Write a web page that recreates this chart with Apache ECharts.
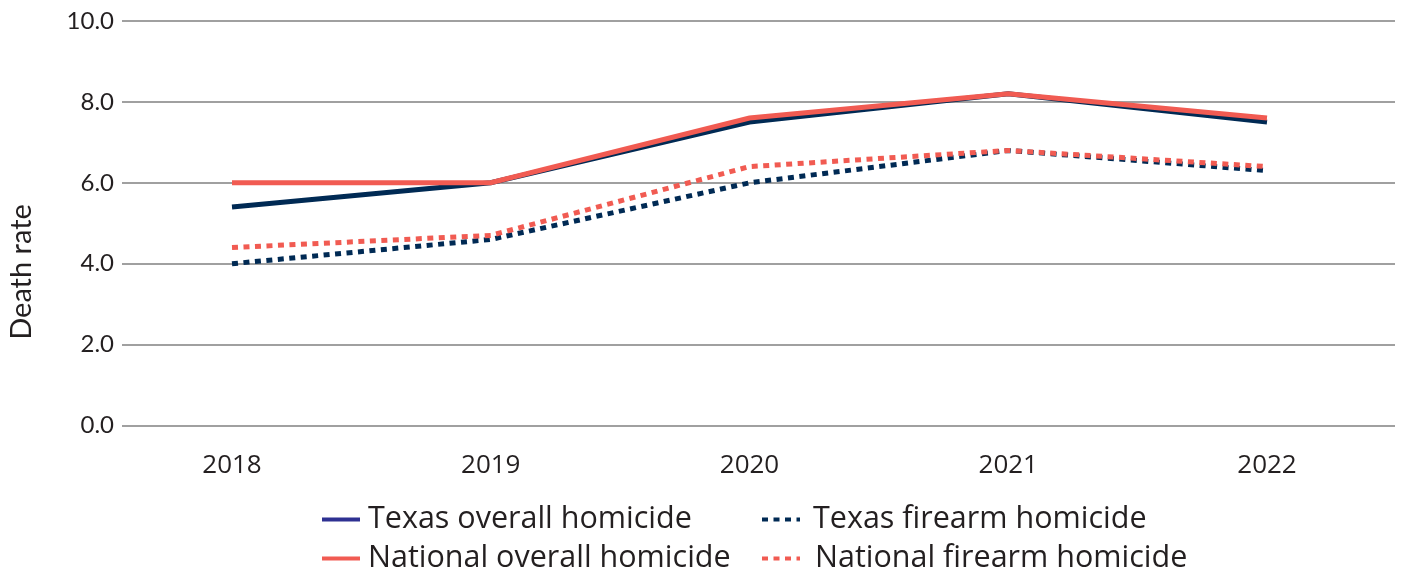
<!DOCTYPE html>
<html>
<head>
<meta charset="utf-8">
<script src="https://cdn.jsdelivr.net/npm/echarts@6/dist/echarts.min.js"></script>
<style>
  html, body { margin: 0; padding: 0; background: #ffffff; }
  #chart { width: 1403px; height: 576px; }
</style>
</head>
<body>
<div id="chart"></div>
<script>
// Homicide death rates, Texas vs. national, 2018–2022
const years = ['2018', '2019', '2020', '2021', '2022'];
const texasOverall = [5.4, 6.0, 7.5, 8.2, 7.5];
const texasFirearm = [4.0, 4.6, 6.0, 6.8, 6.3];
const nationalOverall = [6.0, 6.0, 7.6, 8.2, 7.6];
const nationalFirearm = [4.4, 4.7, 6.4, 6.8, 6.4];
const yTicks = [0, 2, 4, 6, 8, 10];

const NAVY = '#002a54';
const RED = '#f15b52';
const LEGEND_BLUE = '#2e3192';
const TEXT = '#231f20';
const DOTS = [6, 5.5];

const chart = echarts.init(document.getElementById('chart'), null, { renderer: 'canvas' });

const gridTop = 21, gridBottom = 150.5;

function legendAt(left, topPos, name, color, dotted, textGap) {
  return {
    left: left,
    top: topPos,
    orient: 'horizontal',
    itemWidth: 38,
    itemHeight: 14,
    padding: 0,
    data: [{
      name: name,
      // hide the marker dot; keep only the line sample
      itemStyle: { color: 'rgba(0,0,0,0)', borderWidth: 0, opacity: 0 },
      lineStyle: { color: color, width: 4, type: dotted ? DOTS : 'solid' }
    }],
    textStyle: {
      fontFamily: 'Open Sans',
      fontSize: 30.5,
      color: TEXT,
      padding: [0, 0, 0, textGap]
    },
    selectedMode: false
  };
}

chart.setOption({
  animation: false,
  backgroundColor: '#ffffff',
  grid: [
    { left: 122, right: 8, top: gridTop, bottom: gridBottom },
    { left: 232, right: 136, top: gridTop, bottom: gridBottom }
  ],
  xAxis: [
    { gridIndex: 0, type: 'category', data: years, show: false },
    {
      gridIndex: 1,
      type: 'category',
      data: years,
      boundaryGap: false,
      axisLine: { show: false },
      axisTick: { show: false },
      axisLabel: {
        margin: 27,
        fontFamily: 'Open Sans',
        fontSize: 26,
        color: TEXT
      },
      splitLine: { show: false }
    }
  ],
  yAxis: [
    {
      gridIndex: 0,
      type: 'value',
      min: yTicks[0],
      max: yTicks[yTicks.length - 1],
      interval: 2,
      axisLine: { show: false },
      axisTick: { show: false },
      axisLabel: {
        margin: 8,
        fontFamily: 'Lato',
        fontSize: 24,
        color: TEXT,
        formatter: v => v.toFixed(1)
      },
      splitLine: { show: true, lineStyle: { color: '#a0a0a0', width: 2 } }
    },
    {
      gridIndex: 1,
      type: 'value',
      min: yTicks[0],
      max: yTicks[yTicks.length - 1],
      interval: 2,
      show: false,
      splitLine: { show: false }
    }
  ],
  legend: [
    legendAt(320, 504, 'Texas overall homicide', LEGEND_BLUE, false, 3),
    legendAt(760, 504, 'Texas firearm homicide', NAVY, true, 8),
    legendAt(320, 543, 'National overall homicide', RED, false, 3),
    legendAt(760, 543, 'National firearm homicide', RED, true, 10)
  ],
  graphic: [{
    type: 'text',
    x: 22,
    y: 272,
    rotation: Math.PI / 2,
    style: {
      text: 'Death rate',
      fontFamily: 'Lato',
      fontSize: 29,
      fill: TEXT,
      align: 'center',
      verticalAlign: 'middle'
    }
  }],
  series: [
    {
      name: 'Texas overall homicide',
      type: 'line',
      xAxisIndex: 1, yAxisIndex: 1,
      data: texasOverall,
      symbol: 'none',
      lineStyle: { color: NAVY, width: 5, cap: 'butt', join: 'miter' },
      itemStyle: { color: NAVY },
      z: 2
    },
    {
      name: 'Texas firearm homicide',
      type: 'line',
      xAxisIndex: 1, yAxisIndex: 1,
      data: texasFirearm,
      symbol: 'none',
      lineStyle: { color: NAVY, width: 5, type: DOTS, cap: 'butt' },
      itemStyle: { color: NAVY },
      z: 2
    },
    {
      name: 'National overall homicide',
      type: 'line',
      xAxisIndex: 1, yAxisIndex: 1,
      data: nationalOverall,
      symbol: 'none',
      lineStyle: { color: RED, width: 5, cap: 'butt', join: 'miter' },
      itemStyle: { color: RED },
      z: 3
    },
    {
      name: 'National firearm homicide',
      type: 'line',
      xAxisIndex: 1, yAxisIndex: 1,
      data: nationalFirearm,
      symbol: 'none',
      lineStyle: { color: RED, width: 5, type: DOTS, cap: 'butt' },
      itemStyle: { color: RED },
      z: 3
    }
  ]
});
</script>
</body>
</html>
